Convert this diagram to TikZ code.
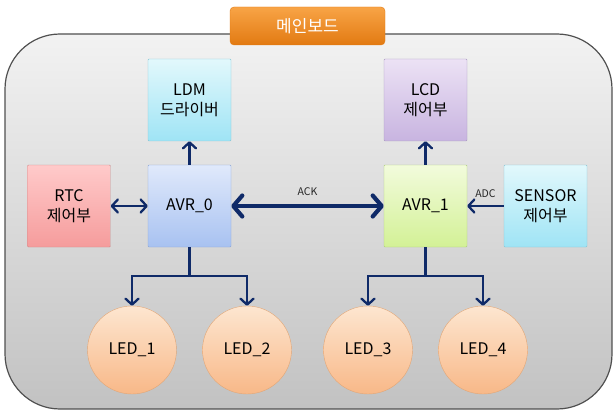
\documentclass[tikz,border=0pt]{standalone}
\usepackage{fontspec}
\setmainfont{Noto Sans CJK KR}
\usepackage{tikz}
\usetikzlibrary{positioning, arrows.meta, shapes.geometric}
\definecolor{navy}{HTML}{0F2A68}
\definecolor{framedraw}{HTML}{505050}
\definecolor{orangetop}{HTML}{F8A446}
\definecolor{orangebot}{HTML}{E27A12}
\definecolor{cyantop}{HTML}{E2F8FC}
\definecolor{cyanbot}{HTML}{9FE4F5}
\definecolor{cyandraw}{HTML}{86C6D6}
\definecolor{redtop}{HTML}{FFCACA}
\definecolor{redbot}{HTML}{F59C9C}
\definecolor{reddraw}{HTML}{D08A8A}
\definecolor{bluetop}{HTML}{E0E9FB}
\definecolor{bluebot}{HTML}{A8C2F1}
\definecolor{bluedraw}{HTML}{8CA6D6}
\definecolor{violettop}{HTML}{ECE2F5}
\definecolor{violetbot}{HTML}{C8B4E0}
\definecolor{violetdraw}{HTML}{A898C0}
\definecolor{greentop}{HTML}{F2FBDC}
\definecolor{greenbot}{HTML}{D3F196}
\definecolor{greendraw}{HTML}{AFCF7A}
\definecolor{ledtop}{HTML}{FDE6D0}
\definecolor{ledbot}{HTML}{F8B888}
\definecolor{leddraw}{HTML}{E2A676}

\begin{document}
\begin{tikzpicture}[x=1pt, y=-1pt,
    box/.style={rectangle, rounded corners=1pt, minimum width=83pt, minimum height=82pt,
                align=center, font=\fontsize{16}{20}\selectfont},
    led/.style={ellipse, minimum width=89pt, minimum height=88pt, top color=ledtop,
                bottom color=ledbot, draw=leddraw, font=\fontsize{16}{20}\selectfont},
    arr/.style={draw=navy, line width=2.3pt, -{Straight Barb[length=6pt, width=13pt, round]}},
    lbl/.style={font=\fontsize{10.5}{12}\selectfont, text=black!85}]
  \useasboundingbox (0,0) rectangle (614,412);

  % main board
  \draw[framedraw, line width=1.2pt, rounded corners=55pt, top color=black!5, bottom color=black!24]
    (5,34) rectangle (612,409);
  \node[rectangle, rounded corners=4pt, minimum width=155pt, minimum height=38pt,
        top color=orangetop, bottom color=orangebot, draw=orangebot,
        text=white, font=\fontsize{17}{20}\selectfont] (mb) at (307.5,26) {메인보드};

  % controllers
  \node[box, top color=bluetop, bottom color=bluebot, draw=bluedraw] (avr0) at (189.5,206) {AVR\_0};
  \node[box, top color=greentop, bottom color=greenbot, draw=greendraw] (avr1) at (425.5,206) {AVR\_1};

  % peripherals
  \node[box, top color=cyantop, bottom color=cyanbot, draw=cyandraw] (ldm) at (189.5,100) {LDM\\드라이버};
  \node[box, top color=redtop, bottom color=redbot, draw=reddraw] (rtc) at (69,206) {RTC\\제어부};
  \node[box, top color=violettop, bottom color=violetbot, draw=violetdraw] (lcd) at (425.5,100) {LCD\\제어부};
  \node[box, top color=cyantop, bottom color=cyanbot, draw=cyandraw] (sensor) at (545.5,206) {SENSOR\\제어부};

  % leds
  \node[led] (led1) at (132,350) {LED\_1};
  \node[led] (led2) at (247,350) {LED\_2};
  \node[led] (led3) at (368,350) {LED\_3};
  \node[led] (led4) at (483,350) {LED\_4};

  % links
  \draw[arr] (avr0) -- (ldm);
  \draw[arr] (avr1) -- (lcd);
  \draw[arr, {Straight Barb[length=6pt, width=13pt, round]}-{Straight Barb[length=6pt, width=13pt, round]}]
    (rtc) -- (avr0);
  \draw[arr] (sensor) -- node[lbl, above=4pt] {ADC} (avr1);
  \draw[draw=navy, line width=4.2pt,
        {Straight Barb[length=9pt, width=21pt, round]}-{Straight Barb[length=9pt, width=21pt, round]}]
    (avr0) -- node[lbl, above=5pt] {ACK} (avr1);
  \draw[arr] (avr0.south) -- ++(0,29) -| (led1.north);
  \draw[arr] (avr0.south) -- ++(0,29) -| (led2.north);
  \draw[arr] (avr1.south) -- ++(0,29) -| (led3.north);
  \draw[arr] (avr1.south) -- ++(0,29) -| (led4.north);
\end{tikzpicture}
\end{document}
